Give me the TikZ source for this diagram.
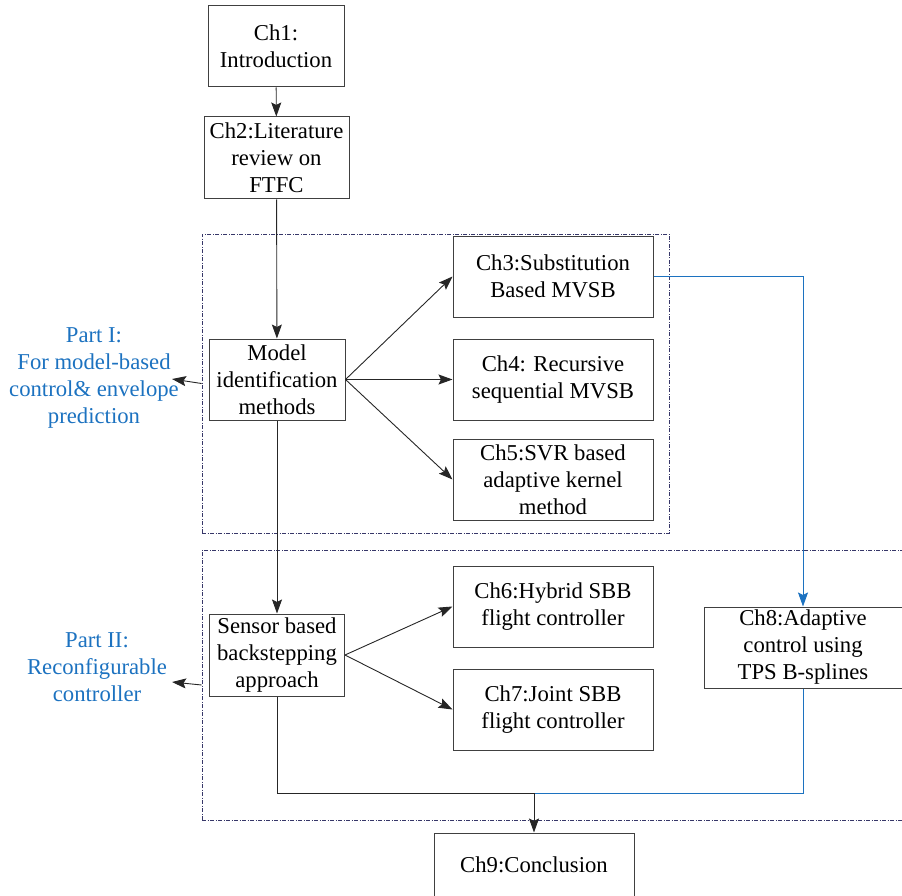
\documentclass[tikz,border=0pt]{standalone}
\usepackage{fontspec}
\setmainfont{Liberation Serif}
\usetikzlibrary{arrows.meta}
\definecolor{partblue}{RGB}{28,114,192}
\definecolor{frame}{RGB}{55,55,105}
\tikzset{every node/.style={font=\fontsize{22.7}{27}\selectfont},
box/.style={draw=black!75,line width=1pt,align=center,inner sep=0pt},
part/.style={text=partblue,align=center,inner sep=0pt},
group/.style={draw=frame,line width=.9pt,dash pattern=on 4pt off 1.5pt on 1pt off 1.5pt,inner sep=0pt},
tip/.style={-{Stealth[length=14pt,width=10pt,inset=2.5pt]}},
flow/.style={tip,line width=.9pt,draw=black!85},link/.style={line width=1pt,draw=partblue}}

\begin{document}
\begin{tikzpicture}[x=1pt,y=-1pt]
\clip (0,0) rectangle (902,896);
% frames of the two parts
\node[group,minimum width=467,minimum height=299] (frameA) at (435.5,383.5){};
\node[group,minimum width=708,minimum height=270] (frameB) at (556,685){};
% chapters
\node[box,minimum width=136,minimum height=81] (ch1) at (276,46.5){Ch1:\\Introduction};
\node[box,minimum width=145,minimum height=82] (ch2) at (276.5,158){Ch2:Literature\\review on\\FTFC};
\node[box,minimum width=136,minimum height=81] (model) at (277,379.5){Model\\identification\\methods};
\node[box,minimum width=135,minimum height=82] (sensor) at (277,655){Sensor based\\backstepping\\approach};
\foreach \n/\y/\t in {ch3/276.5/{Ch3:Substitution\\Based MVSB},ch4/379.5/{Ch4: Recursive\\sequential MVSB},ch5/479.5/{Ch5:SVR based\\adaptive kernel\\method},ch6/606.5/{Ch6:Hybrid SBB\\flight controller},ch7/709.5/{Ch7:Joint SBB\\flight controller}}
\node[box,minimum width=200,minimum height=81] (\n) at (553,\y){\t};
\node[box,minimum width=198,minimum height=81] (ch8) at (803,647.5){Ch8:Adaptive\\control using\\TPS B-splines};
\node[box,minimum width=200,minimum height=64] (ch9) at (534,865){Ch9:Conclusion};
% part labels
\node[part] (partA) at (94,378){Part I:\\For model-based\\control\& envelope\\prediction};
\node[part] (partB) at (97,667){Part II:\\Reconfigurable\\controller};
\coordinate (tipA) at (172,379);\coordinate (tipB) at (172,682);
\draw[flow] (frameA.west)--(tipA);\draw[flow] (frameB.west)--(tipB);
% connectors
\draw[flow] (ch1)--(ch2);\draw[flow] (ch2)--(model);\draw[flow] (model)--(sensor);
\foreach \n in {ch3,ch4,ch5}{\draw[flow] (model.east)--(\n.west);}
\foreach \n in {ch6,ch7}{\draw[flow] (sensor.east)--(\n.west);}
\draw[link,tip] (ch3.east)-|(ch8.north);
\coordinate (join) at (534,793);
\draw[line width=1pt,black!85] (sensor.south)|-(join);
\draw[link] (ch8.south)|-(join);
\draw[flow] (join)--(ch9.north);
\end{tikzpicture}
\end{document}
